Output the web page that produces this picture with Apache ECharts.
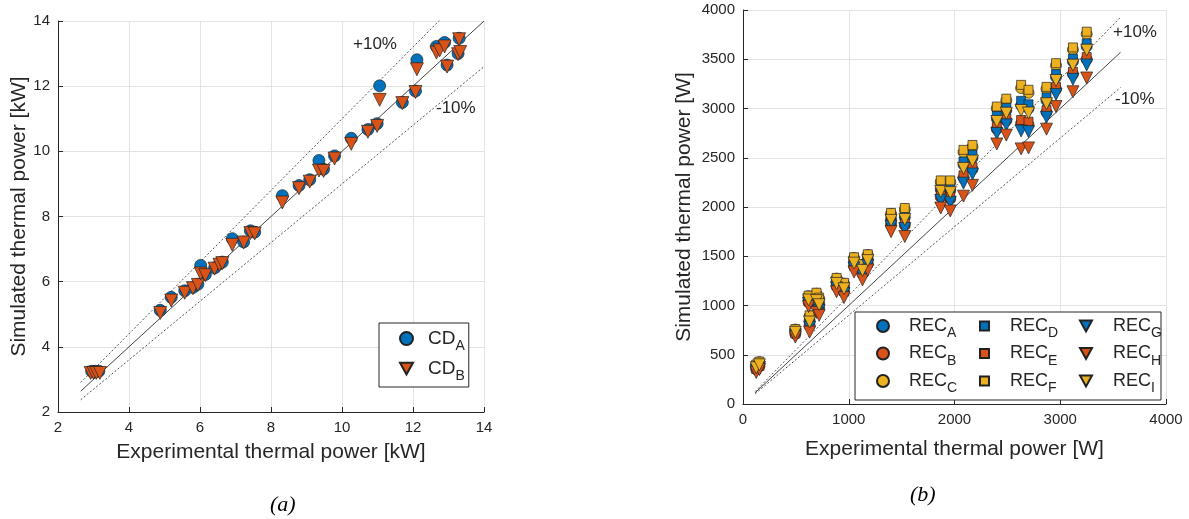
<!DOCTYPE html>
<html>
<head>
<meta charset="utf-8">
<script src="https://cdn.jsdelivr.net/npm/echarts@6/dist/echarts.min.js"></script>
<style>
  html, body { margin: 0; padding: 0; background: #fff; }
  #chart { width: 1189px; height: 519px; }
</style>
</head>
<body>
<div id="chart"></div>
<script>
// (a) experimental vs simulated power [kW], pairs [exp, sim]
const cdA = [[2.95,3.25],[3.05,3.25],[3.15,3.25],[4.88,5.12],[5.19,5.52],[5.57,5.72],[5.8,5.82],[5.94,5.92],
  [6.02,6.5],[6.15,6.22],[6.41,6.42],[6.55,6.55],[6.63,6.6],[6.91,7.32],[7.23,7.22],[7.42,7.56],[7.54,7.52],
  [8.32,8.64],[8.79,8.95],[9.09,9.13],[9.35,9.72],[9.48,9.45],[9.79,9.86],[10.26,10.4],[10.73,10.67],
  [10.99,10.85],[11.06,12.01],[11.7,11.5],[12.07,11.85],[12.11,12.81],[12.66,13.22],[12.89,13.34],
  [12.96,12.65],[13.3,13.47],[13.27,13.0]];
const cdB = [[2.92,3.2],[3.0,3.2],[3.08,3.2],[3.18,3.2],[4.88,5.04],[5.19,5.42],[5.57,5.66],[5.8,5.8],
  [5.94,5.9],[6.02,6.25],[6.15,6.2],[6.41,6.4],[6.55,6.52],[6.63,6.57],[6.91,7.13],[7.23,7.2],[7.42,7.49],
  [7.54,7.48],[8.32,8.43],[8.79,8.87],[9.09,9.07],[9.35,9.41],[9.48,9.4],[9.79,9.78],[10.26,10.23],
  [10.73,10.6],[10.99,10.78],[11.06,11.58],[11.7,11.48],[12.07,11.82],[12.11,12.52],[12.66,13.03],
  [12.75,13.1],[12.89,13.22],[12.96,12.6],[13.3,13.44],[13.27,12.98],[13.33,13.05]];
const rangeA = [2.64, 14];

// (b) experimental power [W] and simulated power of each REC case [W]
const expW = [125,155,495,620,630,695,720,885,955,1050,1130,1180,1400,1530,1870,1960,2085,2170,2400,2490,2630,2700,2870,2960,3120,3250];
const recA = [374,404,734,1065,846,1066,1022,1235,1182,1442,1369,1469,1879,1897,2180,2171,2430,2499,2898,2982,3032,3001,3082,3319,3476,3630];
const recB = [352,382,712,1034,798,1010,972,1196,1140,1400,1324,1424,1826,1816,2102,2084,2298,2384,2792,2878,2850,2836,2962,3196,3350,3498];
const recC = [396,426,756,1095,892,1120,1071,1273,1222,1482,1412,1512,1930,1975,2256,2254,2556,2610,3001,3082,3208,3160,3198,3438,3598,3756];
const recD = [380,410,740,1073,858,1080,1035,1245,1192,1452,1380,1480,1892,1917,2200,2192,2462,2528,2925,3008,3078,3043,3113,3350,3508,3662];
const recE = [356,386,716,1040,806,1020,981,1203,1147,1407,1332,1432,1835,1830,2116,2100,2322,2405,2811,2897,2883,2866,2984,3218,3373,3522];
const recF = [400,430,760,1100,900,1130,1080,1280,1230,1490,1420,1520,1940,1990,2270,2270,2580,2630,3020,3100,3240,3190,3220,3460,3620,3780];
const recG = [342,372,702,1021,778,986,950,1179,1122,1382,1305,1405,1803,1781,2068,2047,2242,2335,2746,2834,2772,2765,2910,3143,3296,3442];
const recH = [320,350,680,990,730,930,900,1140,1080,1340,1260,1360,1750,1700,1990,1960,2110,2220,2640,2730,2590,2600,2790,3020,3170,3310];
const recI = [368,398,728,1056,832,1050,1008,1224,1170,1430,1356,1456,1864,1874,2158,2146,2392,2466,2868,2952,2980,2954,3048,3284,3440,3592];
const rangeB = [115, 3570];

const blue = '#0072BD', red = '#D95319', yellow = '#EDB120';
const font = 'Liberation Sans, Arial, sans-serif';
const ink = '#262626';
const downTri = 'path://M0,0 L10,0 L5,9 Z';

const mychart = echarts.init(document.getElementById('chart'));

function pairs(xs, ys) { return xs.map((x, i) => [x, ys[i]]); }
function refLine(range, k, gi, dotted) {
  return {
    type: 'line', xAxisIndex: gi, yAxisIndex: gi, silent: true, symbol: 'none', z: 1,
    data: [[range[0], range[0] * k], [range[1], range[1] * k]],
    lineStyle: { color: dotted ? '#555' : '#444', width: 1, type: dotted ? [2, 2] : 'solid' }
  };
}
function dot(name, data, gi, symbol, size, color) {
  return {
    type: 'scatter', name: name, data: data, xAxisIndex: gi, yAxisIndex: gi,
    symbol: symbol, symbolSize: size, symbolRotate: symbol === 'triangle' ? 180 : 0, z: 3,
    itemStyle: { color: color, borderColor: '#222', borderWidth: 0.7, opacity: 1 }
  };
}
function axis(min, max, interval, name, gap) {
  return {
    type: 'value', min: min, max: max, interval: interval,
    name: name, nameLocation: 'middle', nameGap: gap,
    nameTextStyle: { fontFamily: font, fontSize: 21, color: ink },
    axisLine: { show: true, lineStyle: { color: ink, width: 1 } },
    axisTick: { show: true, inside: true, length: 5, lineStyle: { color: ink } },
    axisLabel: { fontFamily: font, fontSize: 15, color: ink, margin: 8, formatter: v => String(v) },
    splitLine: { show: true, lineStyle: { color: '#e3e3e3', width: 1 } }
  };
}
function richText(gap, size) {
  return {
    m: { fontFamily: font, fontSize: size, color: ink, padding: [0, 0, 0, gap] },
    s: { fontFamily: font, fontSize: 14, color: ink, padding: [15, 0, 0, 0] }
  };
}
function sub(name) { const p = name.split('_'); return '{m|' + p[0] + '}{s|' + p[1] + '}'; }
function items(names) {
  return names.map(n => n === 'CD_B' || /REC_[GHI]/.test(n) ? { name: n, icon: downTri } : n);
}
function recLegend(names, left, w, gap) {
  return {
    data: items(names), orient: 'vertical', left: left, top: 317, itemGap: 4,
    itemWidth: w, itemHeight: w, padding: 0, formatter: sub, selectedMode: false,
    textStyle: { rich: richText(gap, 18) }, z: 6
  };
}

mychart.setOption({
  animation: false,
  backgroundColor: '#fff',
  grid: [
    { left: 58, top: 21, width: 426, height: 391 },
    { left: 743, top: 10, width: 423, height: 394 }
  ],
  xAxis: [
    Object.assign(axis(2, 14, 2, 'Experimental thermal power [kW]', 30), { gridIndex: 0 }),
    Object.assign(axis(0, 4000, 1000, 'Experimental thermal power [W]', 35), { gridIndex: 1 })
  ],
  yAxis: [
    Object.assign(axis(2, 14, 2, 'Simulated thermal power [kW]', 28), { gridIndex: 0 }),
    Object.assign(axis(0, 4000, 500, 'Simulated thermal power [W]', 48), { gridIndex: 1 })
  ],
  legend: [
    {
      data: items(['CD_A', 'CD_B']), orient: 'vertical', left: 379, top: 323, itemGap: 6,
      itemWidth: 13, itemHeight: 13, padding: [6, 4, 4, 20], formatter: sub, selectedMode: false,
      borderColor: ink, borderWidth: 1, backgroundColor: '#fff', borderRadius: 0,
      textStyle: { rich: richText(10, 19) }
    },
    recLegend(['REC_A', 'REC_B', 'REC_C'], 876, 12, 15),
    recLegend(['REC_D', 'REC_E', 'REC_F'], 979, 9, 16),
    recLegend(['REC_G', 'REC_H', 'REC_I'], 1079, 12, 16)
  ],
  graphic: [
    { type: 'rect', z: 5, shape: { x: 855, y: 312, width: 306, height: 88 },
      style: { fill: '#fff', stroke: ink, lineWidth: 1 } },
    { type: 'text', left: 353, top: 36, style: { text: '+10%', font: '17px ' + font, fill: ink } },
    { type: 'text', left: 436, top: 100, style: { text: '-10%', font: '17px ' + font, fill: ink } },
    { type: 'text', left: 1113, top: 24, style: { text: '+10%', font: '17px ' + font, fill: ink } },
    { type: 'text', left: 1115, top: 91, style: { text: '-10%', font: '17px ' + font, fill: ink } },
    { type: 'text', left: 270, top: 494, style: { text: '(a)', font: 'italic 22px Liberation Serif, serif', fill: '#000' } },
    { type: 'text', left: 910, top: 484, style: { text: '(b)', font: 'italic 22px Liberation Serif, serif', fill: '#000' } }
  ],
  series: [
    refLine(rangeA, 1, 0, false),
    refLine(rangeA, 1.1, 0, true),
    refLine(rangeA, 0.9, 0, true),
    dot('CD_A', cdA, 0, 'circle', 12, blue),
    dot('CD_B', cdB, 0, 'triangle', 13, red),
    refLine(rangeB, 1, 1, false),
    refLine(rangeB, 1.1, 1, true),
    refLine(rangeB, 0.9, 1, true),
    dot('REC_A', pairs(expW, recA), 1, 'circle', 11, blue),
    dot('REC_B', pairs(expW, recB), 1, 'circle', 11, red),
    dot('REC_C', pairs(expW, recC), 1, 'circle', 11, yellow),
    dot('REC_D', pairs(expW, recD), 1, 'rect', 9, blue),
    dot('REC_E', pairs(expW, recE), 1, 'rect', 9, red),
    dot('REC_F', pairs(expW, recF), 1, 'rect', 9, yellow),
    dot('REC_G', pairs(expW, recG), 1, 'triangle', 12, blue),
    dot('REC_H', pairs(expW, recH), 1, 'triangle', 12, red),
    dot('REC_I', pairs(expW, recI), 1, 'triangle', 12, yellow)
  ]
});
</script>
</body>
</html>
